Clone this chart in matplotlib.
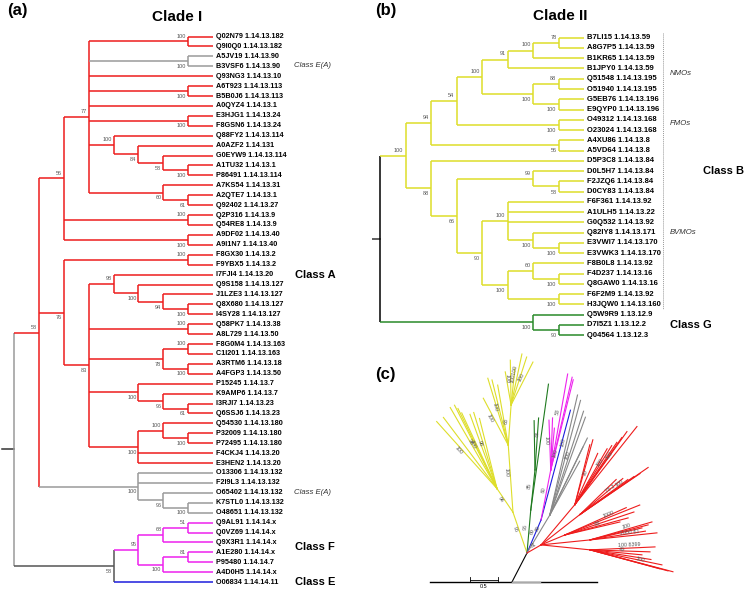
import numpy as np
import matplotlib
matplotlib.use("Agg")
import matplotlib.pyplot as plt

plt.rcParams["font.family"] = ["Liberation Sans", "DejaVu Sans"]

W, H = 744, 589

COLORS = {"A": "#ee1c1c", "EA": "#9a9a9a", "F": "#ee22ee", "E": "#1c1cdd",
          "B": "#dede2a", "G": "#2a8a2a"}
DARK = "#555555"
LW = 1.1

# ---------------- panel (a): Clade I ----------------
ids_a = ["Q02N79", "Q9I0Q0", "A5JV19", "B3VSF6", "Q93NG3", "A6T923", "B5B0J6",
         "A0QYZ4", "E3HJG1", "F8GSN6", "Q88FY2", "A0AZF2", "G0EYW9", "A1TU32",
         "P86491", "A7KS54", "A2QTE7", "Q92402", "Q2P316", "Q54RE8", "A9DF02",
         "A9I1N7", "F8GX30", "F9YBX5", "I7FJI4", "Q9S158", "J1LZE3", "Q8X680",
         "I4SY28", "Q58PK7", "A8L729", "F8G0M4", "C1I201", "A3RTM6", "A4FGP3",
         "P15245", "K9AMP6", "I3RJI7", "Q6SSJ6", "Q54530", "P32009", "P72495",
         "F4CKJ4", "E3HEN2", "O13306", "F2I9L3", "O65402", "K7STL0", "O48651",
         "Q9AL91", "Q0VZ69", "Q9X3R1", "A1E280", "P95480", "A4D0H5", "O06834"]
ec_a = ["1.14.13.182", "1.14.13.182", "1.14.13.90", "1.14.13.90", "1.14.13.10",
        "1.14.13.113", "1.14.13.113", "1.14.13.1", "1.14.13.24", "1.14.13.24",
        "1.14.13.114", "1.14.131", "1.14.13.114", "1.14.13.1", "1.14.13.114",
        "1.14.13.31", "1.14.13.1", "1.14.13.27", "1.14.13.9", "1.14.13.9",
        "1.14.13.40", "1.14.13.40", "1.14.13.2", "1.14.13.2", "1.14.13.20",
        "1.14.13.127", "1.14.13.127", "1.14.13.127", "1.14.13.127", "1.14.13.38",
        "1.14.13.50", "1.14.13.163", "1.14.13.163", "1.14.13.18", "1.14.13.50",
        "1.14.13.7", "1.14.13.7", "1.14.13.23", "1.14.13.23", "1.14.13.180",
        "1.14.13.180", "1.14.13.180", "1.14.13.20", "1.14.13.20", "1.14.13.132",
        "1.14.13.132", "1.14.13.132", "1.14.13.132", "1.14.13.132", "1.14.14.x",
        "1.14.14.x", "1.14.14.x", "1.14.14.x", "1.14.14.7", "1.14.14.x", "1.14.14.11"]
cls_a = ["A"] * 2 + ["EA"] * 2 + ["A"] * 40 + ["EA"] * 5 + ["F"] * 6 + ["E"]

# support value + a/b = drawn above/below the branch
tree_a = """(((((Q02N79,Q9I0Q0)100a,(A5JV19,B3VSF6)100b,Q93NG3,(A6T923,B5B0J6)100b,A0QYZ4,
(E3HJG1,F8GSN6)100b,(Q88FY2,(A0AZF2,(G0EYW9,(A1TU32,P86491)100b)58b)84b)100a,
(A7KS54,(A2QTE7,Q92402)61b)60b)77a,(Q2P316,Q54RE8)100a,(A9DF02,A9I1N7)100b)56a,
((F8GX30,F9YBX5)100a,((I7FJI4,(Q9S158,(J1LZE3,(Q8X680,I4SY28)100b)94b)100b)98a,
(Q58PK7,A8L729)100a,((F8G0M4,C1I201)100a,(A3RTM6,A4FGP3)100b)78b,
(P15245,(K9AMP6,(I3RJI7,Q6SSJ6)61b)96b)100b,
((Q54530,(P32009,P72495)100b)100a,F4CKJ4,E3HEN2)100b)83b)76b,
(O13306,F2I9L3,(O65402,(K7STL0,O48651)100b)96b)100b)58a,
((((Q9AL91,Q0VZ69)51a,Q9X3R1)68a,((A1E280,P95480)81a,A4D0H5)100b)95a,O06834)58b);"""

# ---------------- panel (b): Clade II ----------------
ids_b = ["B7LI15", "A8G7P5", "B1KR65", "B1JPY0", "Q51548", "O51940", "G5EB76",
         "E9QYP0", "O49312", "O23024", "A4XU86", "A5VD64", "D5P3C8", "D0L5H7",
         "F2JZQ6", "D0CY83", "F6F361", "A1ULH5", "G0Q532", "Q82IY8", "E3VWI7",
         "E3VWK3", "F8B0L8", "F4D237", "Q8GAW0", "F6F2M9", "H3JQW0", "Q5W9R9",
         "D7I5Z1", "Q04564"]
ec_b = ["1.14.13.59", "1.14.13.59", "1.14.13.59", "1.14.13.59", "1.14.13.195",
        "1.14.13.195", "1.14.13.196", "1.14.13.196", "1.14.13.168", "1.14.13.168",
        "1.14.13.8", "1.14.13.8", "1.14.13.84", "1.14.13.84", "1.14.13.84",
        "1.14.13.84", "1.14.13.92", "1.14.13.22", "1.14.13.92", "1.14.13.171",
        "1.14.13.170", "1.14.13.170", "1.14.13.92", "1.14.13.16", "1.14.13.16",
        "1.14.13.92", "1.14.13.160", "1.13.12.9", "1.13.12.2", "1.13.12.3"]
cls_b = ["B"] * 27 + ["G"] * 3

tree_b = """((((((((B7LI15,A8G7P5)78a,B1KR65)100a,B1JPY0)91a,((Q51548,O51940)88a,
(G5EB76,E9QYP0)100b)100b)100a,(O49312,O23024)100b)54a,(A4XU86,A5VD64)56b)94a,
(D5P3C8,((D0L5H7,(F2JZQ6,D0CY83)58b)99a,((F6F361,A1ULH5,G0Q532,
(Q82IY8,(E3VWI7,E3VWK3)100b)100b)100a,((F8B0L8,(F4D237,Q8GAW0)100b)60a,
(F6F2M9,H3JQW0)100b)100b)90b)66b)88b)100a,(Q5W9R9,(D7I5Z1,Q04564)90b)100b);"""

groups_b = [("NMOs", 0, 7, 3.5), ("FMOs", 8, 11, 8.4), ("BVMOs", 12, 26, 19.0)]

# ---------------- panel (c): unrooted tree, (angle deg, length subst./site) ----------------
c_root = (242.6, 0.58)
c_base_left, c_base_right = 1.46, 1.52
yel_stem = (109, 0.77)
yel_left_stem = (124, 0.51)
yel_left_ang = [132, 127, 120, 117, 116, 115, 110, 107, 104]
yel_left_len = [1.61, 1.59, 1.67, 1.67, 1.59, 1.49, 1.41, 1.42, 1.29]
yel_mid_stem = (94, 1.20)
yel_mid_ang = [118, 107, 104, 100]
yel_mid_len = [0.95, 1.25, 1.20, 1.09]
yel_top_stem = (86, 0.72)
yel_top_ang = [100, 91, 84, 78, 72, 63]
yel_top_len = [0.60, 0.80, 0.66, 0.93, 0.90, 0.86]
grn_stem = (85, 0.77)
grn_long = (82, 2.27)
grn_sub_stem = (84, 0.72)
grn_sub_ang = [91, 86]
grn_sub_len = [0.88, 0.93]
fe_stem = (67, 0.64)
blue_tip = (75, 2.03)
mag_stem = (79, 0.91)
mag_ang = [92, 88, 85, 80, 77, 76]
mag_len = [0.89, 0.93, 0.75, 1.74, 1.70, 1.66]
gry_stem = (59, 0.79)
gry_ang = [77, 75, 72, 70, 64, 64, 61]
gry_len = [2.20, 2.12, 1.95, 1.86, 1.53, 1.35, 1.10]
red_stem = (30, 0.29)
red_fan_ang = [50, 38, 22.6, 5.8, -5.8]
red_fan_len = [0.94, 0.88, 0.46, 0.88, 0.88]
red_tip_ang = [[51.5, 54.5, 55, 56, 58, 60, 66, 74.5, 76],
               [34.6, 34.3, 35.1, 36.1, 40, 44],
               [21.8, 18.4, 15.1, 13.3, 24],
               [16.2, 14.5, 13, 6, 9],
               [2.6, -1.9, -5.5, -11.8, -14.8, -15.2, -15.1, -9]]
red_tip_len = [[1.78, 1.60, 1.46, 1.34, 1.24, 1.15, 1.00, 1.20, 1.10],
               [1.48, 1.30, 1.18, 1.06, 1.00, 0.90],
               [1.44, 1.30, 1.17, 1.01, 1.20],
               [1.15, 1.07, 0.95, 1.20, 1.00],
               [1.16, 1.07, 0.93, 1.31, 1.53, 1.29, 1.44, 1.10]]
red_tip_lab = [{0: "100", 2: "100", 6: "20"}, {0: "100", 2: "78 2"},
               {0: "1000", 3: "83"}, {0: "100", 3: "1000 81"},
               {0: "100 8399", 4: "100", 2: "49"}]


def parse(newick):
    s = "".join(newick.split()).rstrip(";")
    pos = 0

    def label():
        nonlocal pos
        j = pos
        while pos < len(s) and s[pos] not in ",()":
            pos += 1
        return s[j:pos]

    def node():
        nonlocal pos
        if s[pos] == "(":
            pos += 1
            kids = [node()]
            while s[pos] == ",":
                pos += 1
                kids.append(node())
            pos += 1
            return {"kids": kids, "lab": label()}
        return {"kids": [], "name": label(), "lab": ""}

    return node()


def place(nd, leaves, cls):
    if not nd["kids"]:
        nd["y"], nd["h"] = len(leaves), 0
        nd["cls"] = {cls[len(leaves)]}
        leaves.append(nd["name"])
        return
    for k in nd["kids"]:
        place(k, leaves, cls)
    nd["y"] = (nd["kids"][0]["y"] + nd["kids"][-1]["y"]) / 2
    nd["h"] = 1 + max(k["h"] for k in nd["kids"])
    nd["cls"] = set().union(*[k["cls"] for k in nd["kids"]])


def draw_tree(ax, newick, ids, ecs, cls, root_col, stem_len, lab_dx, lab_dy, fs):
    root = parse(newick)
    leaves = []
    place(root, leaves, cls)
    assert leaves == ids
    top = root["h"]

    def col(nd):
        if nd is root:
            return root_col
        if len(nd["cls"]) == 1:
            return COLORS[next(iter(nd["cls"]))]
        return COLORS["A"] if "A" in nd["cls"] else DARK

    def rec(nd):
        x = top - nd["h"]
        if not nd["kids"]:
            ax.text(x + 0.1, nd["y"], f"{nd['name']} {ecs[ids.index(nd['name'])]}",
                    fontsize=fs, fontweight="bold", va="center", ha="left")
            return
        ax.plot([x, x], [nd["kids"][0]["y"], nd["kids"][-1]["y"]],
                color=col(nd), lw=LW, solid_capstyle="butt")
        for k in nd["kids"]:
            ax.plot([x, top - k["h"]], [k["y"], k["y"]], color=col(k), lw=LW,
                    solid_capstyle="butt")
            rec(k)
        if nd["lab"]:
            dy = -lab_dy if nd["lab"][-1] == "a" else lab_dy
            ax.text(x - lab_dx, nd["y"] + dy, nd["lab"][:-1], fontsize=4,
                    color="#555555", ha="right", va="center")

    ax.plot([-stem_len, 0], [root["y"], root["y"]], color="#333333", lw=LW)
    rec(root)


def px_axes(fig, x0, y0, x1, y1):
    ax = fig.add_axes([x0 / W, 1 - y1 / H, (x1 - x0) / W, (y1 - y0) / H])
    ax.axis("off")
    return ax


fig = plt.figure(figsize=(W / 100, H / 100), dpi=100)

# panel (a): x = depth level (24.9 px), y = leaf row (9.92 px)
ax_a = px_axes(fig, 0, 0, 372, 589)
ax_a.set_xlim(-14 / 24.9, (372 - 14) / 24.9)
ax_a.set_ylim((589 - 36.5) / 9.92, -36.5 / 9.92)
draw_tree(ax_a, tree_a, ids_a, ec_a, cls_a, "#9a9a9a", 0.5, 0.08, 0.52, 5.2)
for txt, row, style in [("Class E(A)", 2.9, "italic"), ("Class A", 24, "bold"),
                        ("Class E(A)", 46, "italic"), ("Class F", 51.5, "bold"),
                        ("Class E", 55, "bold")]:
    if style == "italic":
        ax_a.text(11.24, row, txt, fontsize=5.6, style="italic", va="center", color="#333333")
    else:
        ax_a.text(11.29, row, txt, fontsize=8, fontweight="bold", va="center")

# panel (b)
ax_b = px_axes(fig, 372, 0, 744, 345)
ax_b.set_xlim((372 - 380) / 25.5, (744 - 380) / 25.5)
ax_b.set_ylim((345 - 37.7) / 10.26, -37.7 / 10.26)
draw_tree(ax_b, tree_b, ids_b, ec_b, cls_b, "black", 1.0, 0.08, 0.54, 5.5)
for name, r0, r1, rlab in groups_b:
    ax_b.plot([11.1, 11.1], [r0 - 0.45, r1 + 0.45], color="#999999", lw=0.7,
              linestyle=(0, (1, 1)))
    ax_b.text(11.37, rlab, name, fontsize=5.6, style="italic", va="center", color="#333333")
ax_b.text(12.67, 13, "Class B", fontsize=8, fontweight="bold", va="center")
ax_b.text(11.37, 28, "Class G", fontsize=8, fontweight="bold", va="center")

# panel (c): 1 unit = 56 px, origin at the tree centre
axc = px_axes(fig, 370, 340, 744, 589)
axc.set_xlim((370 - 527) / 56, (744 - 527) / 56)
axc.set_ylim((553 - 589) / 56, (553 - 340) / 56)
LWC = 0.8


def pol(p, ang, ln):
    a = np.deg2rad(ang)
    return (p[0] + ln * np.cos(a), p[1] + ln * np.sin(a))


def blabel(p, q, ang, txt):
    t = 0.6
    n = np.deg2rad(ang + 90)
    x = p[0] + t * (q[0] - p[0]) + 0.06 * np.cos(n)
    y = p[1] + t * (q[1] - p[1]) + 0.06 * np.sin(n)
    rot = ((ang + 90) % 180) - 90
    axc.text(x, y, txt, fontsize=3.8, color="#555555", rotation=rot,
             ha="center", va="center", rotation_mode="anchor")


def seg(p, ang, ln, color, lab=None):
    q = pol(p, ang, ln)
    axc.plot([p[0], q[0]], [p[1], q[1]], color=color, lw=LWC)
    if lab:
        blabel(p, q, ang, lab)
    return q


def tips(p, angs, lens, color, labs=None):
    for i, (a, l) in enumerate(zip(angs, lens)):
        seg(p, a, l, color, (labs or {}).get(i))


c0 = (0.0, 0.0)
rt = seg(c0, *c_root, "black")
axc.plot([rt[0] - c_base_left, rt[0] + c_base_right], [rt[1], rt[1]], color="black", lw=1.0)
axc.plot([rt[0], rt[0] + 0.5], [rt[1], rt[1]], color="#aaaaaa", lw=1.0)

YEL, GRN, MAG, BLU, GRY, RED = (COLORS["B"], "#1f7a1f", COLORS["F"], COLORS["E"],
                                "#888888", COLORS["A"])
y1 = seg(c0, *yel_stem, YEL, "96")
yl = seg(y1, *yel_left_stem, YEL, "94")
tips(yl, yel_left_ang, yel_left_len, YEL, {0: "100", 4: "98", 5: "100", 7: "98"})
ym = seg(y1, *yel_mid_stem, YEL, "100")
tips(ym, yel_mid_ang, yel_mid_len, YEL, {0: "100", 2: "100"})
yt = seg(ym, *yel_top_stem, YEL, "63")
tips(yt, yel_top_ang, yel_top_len, YEL, {1: "100", 3: "100100", 5: "100"})

g1 = seg(c0, *grn_stem, GRN, "96")
seg(g1, *grn_long, GRN, "64")
g2 = seg(g1, *grn_sub_stem, GRN, "85")
tips(g2, grn_sub_ang, grn_sub_len, GRN)

fe = seg(c0, *fe_stem, BLU, "69")
seg(fe, *blue_tip, BLU, "100")
m1 = seg(fe, *mag_stem, MAG, "60")
tips(m1, mag_ang, mag_len, MAG, {3: "53", 0: "100"})

gr = seg(c0, *gry_stem, GRY, "69")
tips(gr, gry_ang, gry_len, GRY, {0: "100", 3: "100"})

r0 = seg(c0, *red_stem, RED, "31")
for a, l, ta, tl, lab in zip(red_fan_ang, red_fan_len, red_tip_ang, red_tip_len, red_tip_lab):
    rn = seg(r0, a, l, RED)
    tips(rn, ta, tl, RED, lab)

# scale bar
sb_x, sb_y = (470 - 527) / 56, (553 - 579.5) / 56
axc.plot([sb_x, sb_x + 0.5], [sb_y, sb_y], color="black", lw=0.6)
for xx in (sb_x, sb_x + 0.5):
    axc.plot([xx, xx], [sb_y - 0.04, sb_y + 0.04], color="black", lw=0.6)
axc.text(sb_x + 0.25, sb_y - 0.13, "0.5", fontsize=4, ha="center", va="center")

# panel letters and titles
for x, y, txt, fs in [(7, 10, "(a)", 12), (375, 10, "(b)", 12), (375, 375, "(c)", 12)]:
    fig.text(x / W, 1 - y / H, txt, fontsize=fs, fontweight="bold", va="center")
fig.text(177 / W, 1 - 17 / H, "Clade I", fontsize=11, fontweight="bold", ha="center", va="center")
fig.text(560 / W, 1 - 16 / H, "Clade II", fontsize=11, fontweight="bold", ha="center", va="center")

fig.savefig("out.png", dpi=100)
